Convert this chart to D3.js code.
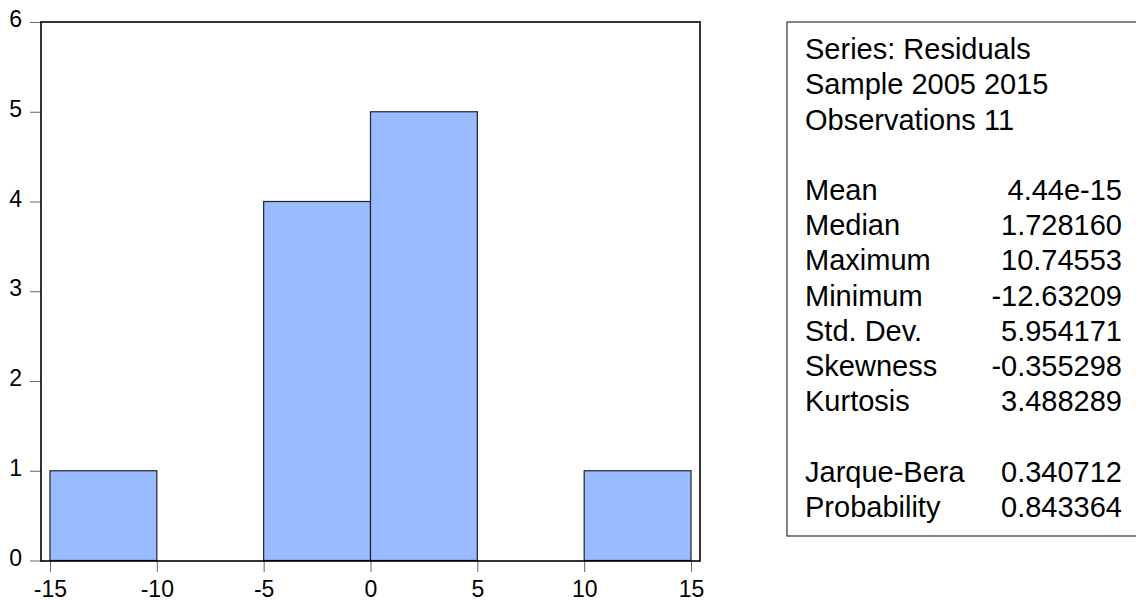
<!DOCTYPE html>
<html>
<head>
<meta charset="utf-8">
<script src="https://cdn.jsdelivr.net/npm/d3@7"></script>
<style>
  html, body { margin: 0; padding: 0; background: #fff; }
  svg { display: block; font-family: Arial, "Liberation Sans", sans-serif; }
</style>
</head>
<body>
<svg id="chart" width="1136" height="601"></svg>
<script>
// Histogram bins of the residuals (bin edges and counts)
const binStarts = [-15, -10, -5, 0, 5, 10];
const binEnds   = [-10, -5, 0, 5, 10, 15];
const counts    = [1, 0, 4, 5, 0, 1];

// Axis ticks
const xTicks = [-15, -10, -5, 0, 5, 10, 15];
const yTicks = [0, 1, 2, 3, 4, 5, 6];

// Descriptive statistics panel
const headerLines = ["Series: Residuals", "Sample 2005 2015", "Observations 11"];
const statNames  = ["Mean", "Median", "Maximum", "Minimum", "Std. Dev.", "Skewness", "Kurtosis"];
const statValues = ["4.44e-15", "1.728160", "10.74553", "-12.63209", "5.954171", "-0.355298", "3.488289"];
const testNames  = ["Jarque-Bera", "Probability"];
const testValues = ["0.340712", "0.843364"];

const svg = d3.select("#chart");

const plot = { left: 41, right: 700, top: 22, bottom: 561 };

const x = d3.scaleLinear().domain([-15.42, 15.42]).range([plot.left, plot.right]);
const y = d3.scaleLinear().domain([0, 6]).range([560.5, plot.top]);

const bins = binStarts.map((s, i) => ({ x0: s, x1: binEnds[i], n: counts[i] }));

// Bars
svg.append("g")
  .selectAll("rect")
  .data(bins.filter(d => d.n > 0))
  .join("rect")
  .attr("x", d => x(d.x0))
  .attr("width", d => x(d.x1) - x(d.x0))
  .attr("y", d => y(d.n))
  .attr("height", d => y(0) - y(d.n))
  .attr("fill", "#99BBFF")
  .attr("stroke", "#222")
  .attr("stroke-width", 1.2);

const axisFont = "Arial, 'Liberation Sans', sans-serif";

// Y axis (ticks outward, left)
const yAxis = d3.axisLeft(y).tickValues(yTicks).tickSize(11).tickPadding(8).tickFormat(d3.format("d"));
const gy = svg.append("g").attr("transform", `translate(${plot.left},0)`).call(yAxis)
  .attr("font-size", 23).attr("font-family", axisFont);
gy.select(".domain").remove();
gy.selectAll(".tick line").attr("stroke", "#666").attr("stroke-width", 1);
gy.selectAll(".tick text")
  .attr("fill", "#000")
  .attr("dy", "0.2em");

// X axis (ticks outward, bottom)
const xAxis = d3.axisBottom(x).tickValues(xTicks).tickSize(11).tickPadding(8).tickFormat(d3.format("d"));
const gx = svg.append("g").attr("transform", `translate(0,${plot.bottom})`).call(xAxis)
  .attr("font-size", 23).attr("font-family", axisFont);
gx.select(".domain").remove();
gx.selectAll(".tick line").attr("stroke", "#666").attr("stroke-width", 1);
gx.selectAll(".tick text")
  .attr("fill", "#000")
  .attr("dy", "0.72em")
  .text(d => d < 0 ? "-" + Math.abs(d) : String(d));

// Plot frame
svg.append("rect")
  .attr("x", plot.left)
  .attr("y", plot.top)
  .attr("width", plot.right - plot.left)
  .attr("height", plot.bottom - plot.top)
  .attr("fill", "none")
  .attr("stroke", "#000")
  .attr("stroke-width", 1.6);

// Statistics box
const box = { left: 787, top: 22, bottom: 536 };
svg.append("rect")
  .attr("x", box.left)
  .attr("y", box.top)
  .attr("width", 1140 - box.left)
  .attr("height", box.bottom - box.top)
  .attr("fill", "none")
  .attr("stroke", "#333")
  .attr("stroke-width", 1.2);

const rowY = i => 200 + (i - 4) * 35.2;
const labelX = 805, valueX = 1122;
const fs = 29;

const rows = [];
headerLines.forEach((t, i) => rows.push({ row: i, label: t, value: null }));
statNames.forEach((t, i) => rows.push({ row: 4 + i, label: t, value: statValues[i] }));
testNames.forEach((t, i) => rows.push({ row: 12 + i, label: t, value: testValues[i] }));

const stats = svg.append("g").attr("font-size", fs).attr("fill", "#000");
stats.selectAll("text.lbl")
  .data(rows)
  .join("text")
  .attr("class", "lbl")
  .attr("x", labelX)
  .attr("y", d => rowY(d.row))
  .text(d => d.label);
stats.selectAll("text.val")
  .data(rows.filter(d => d.value !== null))
  .join("text")
  .attr("class", "val")
  .attr("x", valueX)
  .attr("y", d => rowY(d.row))
  .attr("text-anchor", "end")
  .text(d => d.value);
</script>
</body>
</html>
